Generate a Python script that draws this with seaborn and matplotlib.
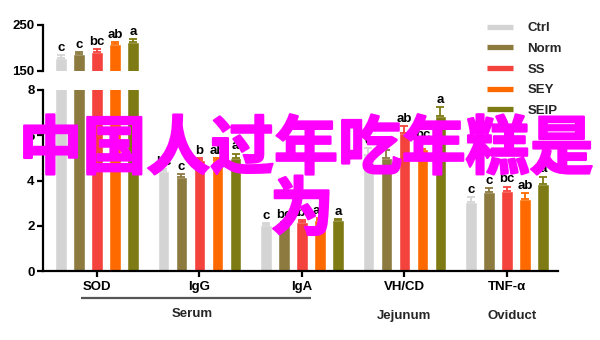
import numpy as np
import pandas as pd
import matplotlib
matplotlib.use("Agg")
import matplotlib.pyplot as plt
import matplotlib.transforms as mtrans
import matplotlib.patheffects as pe
from matplotlib.lines import Line2D
from matplotlib.container import BarContainer
import seaborn as sns

# ---------------- data ----------------
groups = ["SOD", "IgG", "IgA", "VH/CD", "TNF-α"]
series = ["Ctrl", "Norm", "SS", "SEY", "SEIP"]
colors = ["#d4d4d4", "#8c7a3f", "#f4433c", "#ff6a00", "#7e7a14"]

ctrl_vals = [178, 4.40, 2.04, 5.13, 3.04]
norm_vals = [186, 4.15, 2.10, 4.99, 3.48]
ss_vals = [192, 4.90, 2.18, 6.09, 3.55]
sey_vals = [208, 4.90, 2.26, 5.40, 3.19]
seip_vals = [212, 5.01, 2.26, 6.83, 3.85]

ctrl_err = [7, 0.12, 0.08, 0.30, 0.23]
norm_err = [6, 0.15, 0.08, 0.35, 0.18]
ss_err = [6, 0.08, 0.08, 0.30, 0.18]
sey_err = [4, 0.10, 0.07, 0.30, 0.25]
seip_err = [8, 0.18, 0.05, 0.40, 0.32]

ctrl_lab = ["c", "bc", "c", "c", "c"]
norm_lab = ["c", "c", "bc", "c", "c"]
ss_lab = ["bc", "b", "abc", "ab", "bc"]
sey_lab = ["ab", "ab", "ab", "bc", "ab"]
seip_lab = ["a", "a", "a", "a", "a"]

regions = ["Serum", "Jejunum", "Oviduct"]
watermark_line1 = "中国人过年吃年糕是"
watermark_line2 = "为"

values = [ctrl_vals, norm_vals, ss_vals, sey_vals, seip_vals]
errors = [ctrl_err, norm_err, ss_err, sey_err, seip_err]
letters = [ctrl_lab, norm_lab, ss_lab, sey_lab, seip_lab]

df = pd.DataFrame(
    [(g, s, values[i][j]) for i, s in enumerate(series) for j, g in enumerate(groups)],
    columns=["group", "series", "value"],
)

# ---------------- style ----------------
sns.set_style("ticks")
plt.rcParams["font.family"] = ["Liberation Sans", "DejaVu Sans"]
plt.rcParams["font.weight"] = "bold"

fig = plt.figure(figsize=(6, 3.4), dpi=100)
L, W = 0.0717, 0.858
ax_top = fig.add_axes([L, 0.7912, W, 0.1353])
ax = fig.add_axes([L, 0.2029, W, 0.5324])

pal = dict(zip(series, colors))
XLIM = (-0.527, 4.498)

for a, ylim in ((ax_top, (150, 250)), (ax, (0, 8))):
    sns.barplot(data=df, x="group", y="value", hue="series", order=groups,
                hue_order=series, palette=pal, width=0.88, gap=0.36,
                saturation=1, errorbar=None, legend=False, ax=a)
    a.set_ylim(*ylim)
    a.set_xlim(*XLIM)
    a.set_xlabel("")
    a.set_ylabel("")
    bar_conts = [c for c in a.containers if isinstance(c, BarContainer)]
    for i, cont in enumerate(bar_conts):
        xs = [b.get_x() + b.get_width() / 2 for b in cont]
        hs = [b.get_height() for b in cont]
        for x, h, e, lab in zip(xs, hs, errors[i], letters[i]):
            if not (ylim[0] < h + e < ylim[1]):
                continue
            a.errorbar([x], [h], yerr=[[0], [e]], fmt="none", ecolor=colors[i],
                       elinewidth=1.3, capsize=3, capthick=1.3, zorder=3)
            a.annotate(lab, (x, h + e), xytext=(0, 3), textcoords="offset points",
                       ha="center", va="baseline", fontsize=9.5, fontweight="bold",
                       color="black")

# axes styling
for a in (ax_top, ax):
    for sp in ("top", "right"):
        a.spines[sp].set_visible(False)
    a.spines["left"].set_linewidth(1.6)
    a.spines["left"].set_color("black")
    a.tick_params(axis="y", width=1.6, length=4, labelsize=9.5, colors="black", pad=2)

ax_top.spines["bottom"].set_visible(False)
ax_top.set_xticks([])
ax_top.set_yticks([150, 250])

ax.set_yticks([0, 2, 4, 6, 8])
ax.spines["bottom"].set_linewidth(1.6)
ax.spines["bottom"].set_color("black")
ax.tick_params(axis="x", width=1.6, length=4, labelsize=9.5, colors="black", pad=3)

# region labels / serum line
trans = mtrans.blended_transform_factory(ax.transData, ax.transAxes)
ax.plot([-0.156, 2.088], [-0.148, -0.148], color="#555555", lw=1.6,
        transform=trans, clip_on=False, solid_capstyle="butt")
ax.text(0.93, -0.24, regions[0], transform=trans, ha="center", va="center",
        fontsize=9.5, fontweight="bold")
ax.text(3.0, -0.25, regions[1], transform=trans, ha="center", va="center",
        fontsize=9.5, fontweight="bold")
ax.text(4.05, -0.25, regions[2], transform=trans, ha="center", va="center",
        fontsize=9.5, fontweight="bold")

# legend
handles = [Line2D([0], [0], color=c, lw=3.8, solid_capstyle="butt") for c in colors]
fig.legend(handles, series, loc="upper left", bbox_to_anchor=(487 / 600, 1 - 22 / 340),
           frameon=False, fontsize=9.5, handlelength=1.95, handletextpad=1.1,
           labelspacing=0.64, borderpad=0, borderaxespad=0)

# watermark
wm_kw = dict(ha="center", va="center", fontsize=46, color="#ff00ff",
             fontweight="bold", family=["Noto Sans CJK SC", "DejaVu Sans"], zorder=10,
             path_effects=[pe.withStroke(linewidth=1.6, foreground="#ff00ff")])
fig.text(306 / 600, 1 - 150 / 340, watermark_line1, **wm_kw)
fig.text(302 / 600, 1 - 211 / 340, watermark_line2, **wm_kw)

fig.savefig("out.png", dpi=100)
